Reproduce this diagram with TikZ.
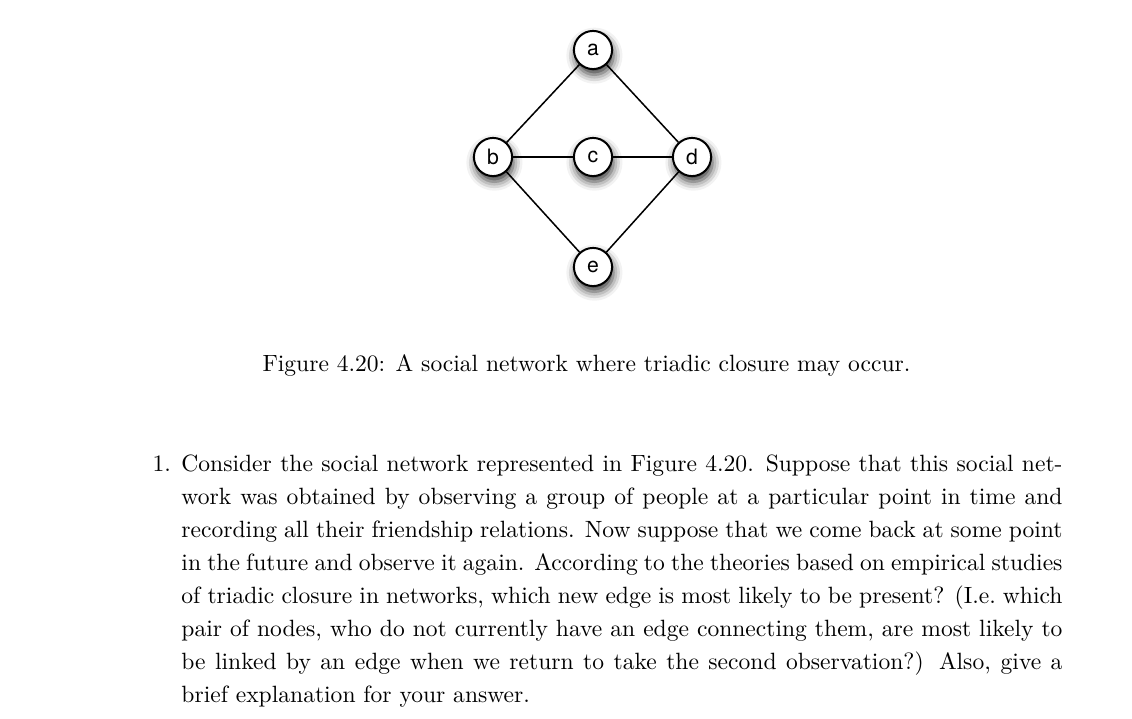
\documentclass[tikz,border=0pt]{standalone}
\usepackage{fontspec}
\newfontfamily\helv{TeX Gyre Heros}
\usetikzlibrary{shadows.blur}
\tikzset{
  person/.style={circle, draw=black, line width=0.85pt, fill=white, minimum size=16.2pt, inner sep=0pt,
    font=\helv\fontsize{9}{11}\selectfont,
    blur shadow={shadow xshift=0.6pt, shadow yshift=-2.4pt, shadow blur radius=3.8pt, shadow opacity=80}},
  tie/.style={line width=0.65pt, black},
  bodytext/.style={inner sep=0pt, text width=374.1pt, align=justify, font=\fontsize{10}{14}\selectfont}
}
\begin{document}
\begin{tikzpicture}[x=0.4246pt,y=-0.4246pt]
\useasboundingbox (0,0) rectangle (1132,718);
\node[person] (a) at (593,50) {a};
\node[person] (b) at (493,157) {b};
\node[person] (c) at (593,157) {c};
\node[person] (d) at (692,157) {d};
\node[person] (e) at (593,267) {e};
\draw[tie] (a) -- (b);
\draw[tie] (a) -- (d);
\draw[tie] (b) -- (c);
\draw[tie] (c) -- (d);
\draw[tie] (b) -- (e);
\draw[tie] (e) -- (d);
\node[inner sep=0pt, anchor=base, font=\fontsize{10}{12}\selectfont] (cap) at (586.5,371.5)
  {Figure 4.20: A social network where triadic closure may occur.};
\node[bodytext, anchor=north west] (q) at (181,454.5)
  {\noindent\llap{1.\hskip 4.5pt}Consider the social network represented in Figure 4.20. Suppose that this social net-\linebreak
  work was obtained by observing a group of people at a particular point in time and\linebreak
  recording all their friendship relations. Now suppose that we come back at some point\linebreak
  in the future and observe it again. According to the theories based on empirical studies\linebreak
  of triadic closure in networks, which new edge is most likely to be present? (I.e.\ which\linebreak
  pair of nodes, who do not currently have an edge connecting them, are most likely to\linebreak
  be linked by an edge when we return to take the second observation?) Also, give a\linebreak
  brief explanation for your answer.};
\end{tikzpicture}
\end{document}
